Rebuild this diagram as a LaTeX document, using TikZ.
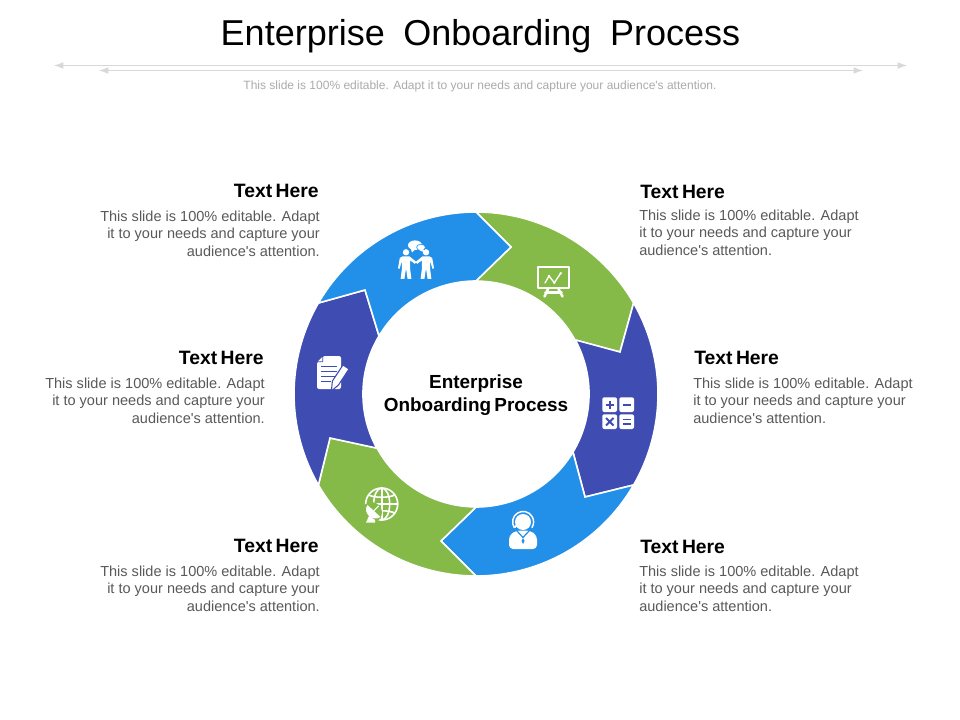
\documentclass[tikz,border=0pt]{standalone}
\usepackage{fontspec}
\setmainfont{Liberation Sans}[Ligatures=TeXOff]
\usetikzlibrary{arrows.meta}
\definecolor{cblue}{HTML}{2290E8}
\definecolor{cgreen}{HTML}{86BA48}
\definecolor{cindigo}{HTML}{3F4DB3}
\definecolor{cbody}{HTML}{595959}
\definecolor{csub}{HTML}{ABABAB}
\definecolor{crule}{HTML}{D8D8D8}
\tikzset{
 seg/.style={draw=white,line width=1.2pt,line join=miter},
 ico/.style={fill=white,draw=none},
 icol/.style={draw=white,line width=1.2pt,fill=none,line cap=round,line join=round},
 head/.style={font=\fontsize{14.5}{17}\selectfont\bfseries,inner sep=0pt},
 bodyl/.style={font=\fontsize{10.9}{13.2}\selectfont,text=cbody,align=left,anchor=north west,inner sep=0pt},
 bodyr/.style={font=\fontsize{10.9}{13.2}\selectfont,text=cbody,align=right,anchor=north east,inner sep=0pt},
 rulearrow/.style={draw=crule,line width=0.75pt,{Latex[length=7pt,width=5pt]}-{Latex[length=7pt,width=5pt]}}
}
\begin{document}
\begin{tikzpicture}[x=0.75pt,y=-0.75pt]
\useasboundingbox (0,0) rectangle (960,720);
\fill[white] (0,0) rectangle (960,720);
\node (title) at (480.5,36) {\fontsize{27}{32}\selectfont Enterprise\hspace{0.24em} Onboarding\hspace{0.24em} Process};
\coordinate (a1) at (54,65.5); \coordinate (a2) at (907,65.5);
\coordinate (b1) at (99,70.5); \coordinate (b2) at (863,70.5);
\draw[rulearrow] (a1) -- (a2);
\draw[rulearrow] (b1) -- (b2);
\node (sub) at (480,86) {\fontsize{9}{11}\selectfont\color{csub} This slide is 100\% editable. Adapt it to your needs and capture your audience's attention.};
% ring segments
\def\R{182} \def\r{113}
\path[seg,fill=cgreen] (476,212) arc[start angle=90,end angle=30,x radius=\R,y radius=-\R] -- (620,352) -- (575,340) arc[start angle=28.6,end angle=90,x radius=\r,y radius=-\r] -- (511,247) -- cycle;
\path[seg,fill=cindigo] (633.6,303) arc[start angle=30,end angle=-30,x radius=\R,y radius=-\R] -- (585,497) -- (573,452) arc[start angle=-30.9,end angle=28.6,x radius=\r,y radius=-\r] -- (620,352) -- cycle;
\path[seg,fill=cblue] (633.6,485) arc[start angle=-30,end angle=-90,x radius=\R,y radius=-\R] -- (441,541) -- (476,507) arc[start angle=-90,end angle=-30.9,x radius=\r,y radius=-\r] -- (585,497) -- cycle;
\path[seg,fill=cgreen] (476,576) arc[start angle=-90,end angle=-150,x radius=\R,y radius=-\R] -- (330,438) -- (377,448) arc[start angle=-151.4,end angle=-90,x radius=\r,y radius=-\r] -- (441,541) -- cycle;
\path[seg,fill=cindigo] (318.4,485) arc[start angle=-150,end angle=-210,x radius=\R,y radius=-\R] -- (365,290) -- (379,336) arc[start angle=149.1,end angle=208.6,x radius=\r,y radius=-\r] -- (330,438) -- cycle;
\path[seg,fill=cblue] (318.4,303) arc[start angle=150,end angle=90,x radius=\R,y radius=-\R] -- (511,247) -- (476,281) arc[start angle=90,end angle=149.1,x radius=\r,y radius=-\r] -- (365,290) -- cycle;
% icon: two people and speech bubbles
\def\personshape{(402.4,256.5) -- (409.6,256.5) -- (416.5,262) -- (414.8,263.8) -- (410.2,260.5) -- (410,268) -- (411.4,279) -- (407.6,279) -- (406,268.5) -- (404.4,279) -- (400.6,279) -- (402,268) -- (401.8,261) -- (399.6,268.8) -- (398,268.3) -- (399.8,258) -- cycle}
\fill[ico] (406,252.3) circle[radius=3.2];
\fill[ico] \personshape;
\begin{scope}[shift={(832,0)},xscale=-1]
\fill[ico] (406,252.3) circle[radius=3.2];
\fill[ico] \personshape;
\end{scope}
\fill[ico] (415,245.2) ellipse[x radius=7,y radius=4.8];
\fill[ico] (410.5,248) -- (412,252.5) -- (415,249.5) -- cycle;
\fill[ico,draw=cblue,line width=0.45pt] (421,247.4) ellipse[x radius=4.4,y radius=3.2];
\fill[ico] (423,249.5) -- (425.5,252.5) -- (419.5,250.4) -- cycle;
% icon: presentation board
\draw[icol,line width=1.8pt] (537.8,267) rectangle (569.2,288);
\draw[icol,line width=1pt] (545,283) -- (549,276) -- (554.3,282.7) -- (560.7,273.3);
\fill[ico] (549,276) circle[radius=1.4] (554.3,282.7) circle[radius=1.4] (560.7,273.3) circle[radius=1.4];
\draw[icol,line width=1.9pt] (548,289) -- (544.5,296.5) (558.5,289) -- (562.5,296.5) (545.5,292.5) -- (561.5,292.5);
% icon: document and pencil
\fill[ico,rounded corners=1.5pt] (323,356) -- (341,356) -- (341,389) -- (317,389) -- (317,362) -- cycle;
\fill[cindigo] (323,355.5) -- (316.5,362) -- (323,362) -- cycle;
\fill[ico] (322.4,357) -- (318,361.4) -- (322.4,361.4) -- cycle;
\draw[cindigo,line width=1.1pt] (321,366.5) -- (337,366.5) (321,371.5) -- (337,371.5) (321,376.5) -- (335,376.5) (321,381.5) -- (331,381.5);
\fill[ico,draw=cindigo,line width=0.8pt,line join=round] (331.4,391) -- (332.4,381) -- (343,365) -- (349,369) -- (338.5,385) -- cycle;
% icon: globe and dish
\draw[icol] (381.7,504) circle[radius=16];
\draw[icol] (381.7,504) ellipse[x radius=8,y radius=16];
\draw[icol] (381.7,488) -- (381.7,520) (365.7,504) -- (397.7,504);
\draw[icol] (368.5,495) .. controls (375,498) and (388,498) .. (394.9,495);
\draw[icol] (368.5,513) .. controls (375,510) and (388,510) .. (394.9,513);
\fill[cgreen] (371.5,512.5) circle[radius=10.5];
\fill[ico] (367.5,505) .. controls (362,512) and (372,522.5) .. (380.5,517) -- cycle;
\fill[ico] (366,522.5) -- (369,516) -- (375,520) -- (375,522.5) -- cycle;
\draw[icol,line width=0.8pt] (373.5,511) -- (378.5,506);
% icon: headset agent
\fill[ico] (523,522) circle[radius=8];
\draw[icol,line width=1.1pt] (514.2,527.5) arc[start angle=212,end angle=-32,x radius=10.5,y radius=-10.5];
\fill[ico] (515.5,526.5) circle[radius=1.4];
\fill[ico,rounded corners=3pt] (516,530.5) -- (530,530.5) -- (537,535.5) -- (537,549) -- (509,549) -- (509,535.5) -- cycle;
\draw[cblue,line width=0.9pt,line join=round] (516.5,530.5) -- (523,537.5) -- (529.5,530.5);
\fill[cblue] (523,538) -- (521.5,541) -- (523,544) -- (524.5,541) -- cycle;
% icon: calculator
\fill[ico,rounded corners=1.5pt] (602.3,397.3) rectangle (617,412);
\fill[ico,rounded corners=1.5pt] (619.3,397.3) rectangle (634,412);
\fill[ico,rounded corners=1.5pt] (602.3,414.3) rectangle (617,429);
\fill[ico,rounded corners=1.5pt] (619.3,414.3) rectangle (634,429);
\draw[cindigo,line width=1.3pt] (605.5,404.7) -- (614,404.7) (609.7,400.5) -- (609.7,409);
\draw[cindigo,line width=1.3pt] (622.5,404.7) -- (631,404.7);
\draw[cindigo,line width=1.4pt] (606,418) -- (613.5,425.5) (613.5,418) -- (606,425.5);
\draw[cindigo,line width=1.3pt] (622.5,419.5) -- (631,419.5) (622.5,424) -- (631,424);
% centre
\node[font=\fontsize{14.2}{17.4}\selectfont\bfseries,align=center] (centre) at (476,395) {Enterprise\\Onboarding\hspace{-0.1em} Process};
% labels
\node[head,anchor=east] (h1) at (319,191) {Text\hspace{-0.1em} Here};
\node[bodyr] (t1) at (320,210.3) {This slide is 100\% editable. Adapt\\it to your needs and capture your\\audience's attention.};
\node[head,anchor=west] (h2) at (640,192) {Text\hspace{-0.1em} Here};
\node[bodyl] (t2) at (639,209.5) {This slide is 100\% editable. Adapt\\it to your needs and capture your\\audience's attention.};
\node[head,anchor=east] (h3) at (264,358) {Text\hspace{-0.1em} Here};
\node[bodyr] (t3) at (265,377.5) {This slide is 100\% editable. Adapt\\it to your needs and capture your\\audience's attention.};
\node[head,anchor=west] (h4) at (694,358) {Text\hspace{-0.1em} Here};
\node[bodyl] (t4) at (693,377.5) {This slide is 100\% editable. Adapt\\it to your needs and capture your\\audience's attention.};
\node[head,anchor=east] (h5) at (319,546) {Text\hspace{-0.1em} Here};
\node[bodyr] (t5) at (320,565.3) {This slide is 100\% editable. Adapt\\it to your needs and capture your\\audience's attention.};
\node[head,anchor=west] (h6) at (640,547) {Text\hspace{-0.1em} Here};
\node[bodyl] (t6) at (639,565.5) {This slide is 100\% editable. Adapt\\it to your needs and capture your\\audience's attention.};
\end{tikzpicture}
\end{document}
